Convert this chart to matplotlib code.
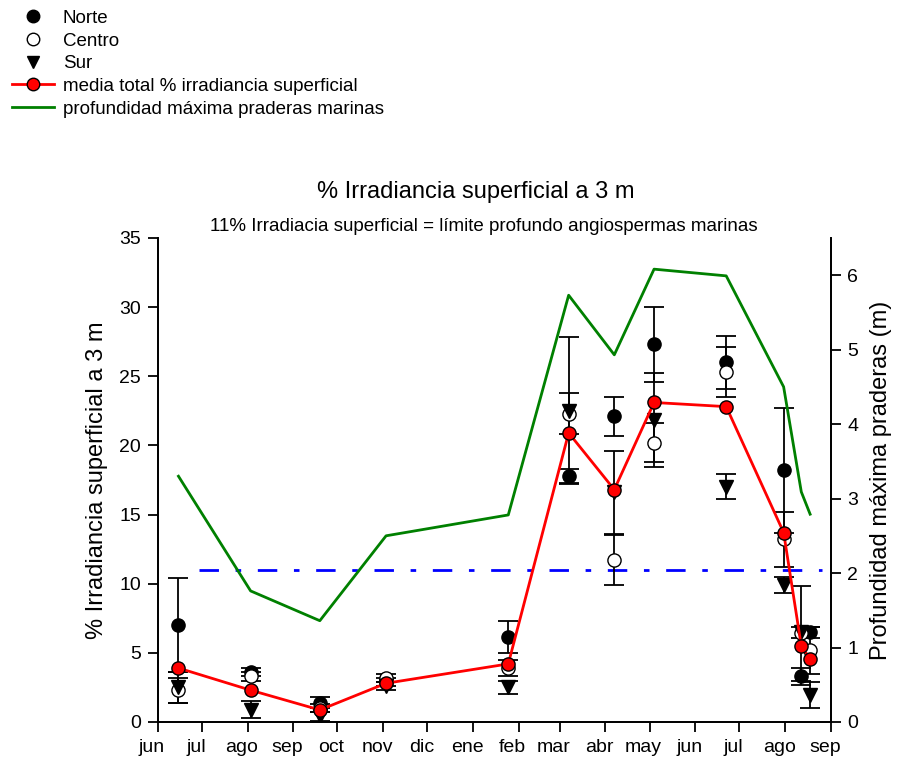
import matplotlib.pyplot as plt
import matplotlib.transforms as mtransforms
from matplotlib.lines import Line2D
import pandas as pd

plt.rcParams['font.family'] = ['Liberation Sans', 'DejaVu Sans']

# fechas de muestreo
fechas = pd.to_datetime(['2006-06-15', '2006-08-03', '2006-09-19', '2006-11-03',
                         '2007-01-25', '2007-03-07', '2007-04-07', '2007-05-04',
                         '2007-06-22', '2007-07-31', '2007-08-12', '2007-08-18'])

norte = [7.0, 3.6, 1.4, 2.9, 6.15, 17.8, 22.1, 27.3, 26.0, 18.2, 3.3, 6.5]
norte_err = [3.4, 0.3, 0.4, 0.3, 1.15, 0.5, 1.4, 2.7, 1.9, 4.5, 0.6, 0.4]
centro = [2.3, 3.3, 1.0, 3.2, 3.9, 22.3, 11.7, 20.2, 25.3, 13.2, 6.4, 5.2]
centro_err = [0.9, 0.3, 0.3, 0.3, 0.6, 1.5, 1.8, 1.4, 1.8, 2.0, 3.4, 1.7]
sur = [2.5, 0.9, 0.4, 2.6, 2.5, 22.5, 16.6, 21.8, 17.0, 9.9, 6.5, 1.95]
sur_err = [1.1, 0.6, 0.3, 0.3, 0.5, 5.3, 3.0, 3.4, 0.9, 0.6, 0.4, 0.95]
media = [3.9, 2.3, 0.87, 2.8, 4.2, 20.9, 16.8, 23.1, 22.8, 13.7, 5.5, 4.55]
prof_max = [3.30, 1.76, 1.36, 2.50, 2.78, 5.73, 4.93, 6.08, 5.99, 4.50, 3.09, 2.79]

limite = 11
limite_ini = pd.Timestamp('2006-06-29')
limite_fin = pd.Timestamp('2007-08-26')

meses = ['jun', 'jul', 'ago', 'sep', 'oct', 'nov', 'dic', 'ene', 'feb', 'mar',
         'abr', 'may', 'jun', 'jul', 'ago', 'sep']
ticks_meses = pd.date_range('2006-06-01', '2007-09-01', freq='MS')

fig = plt.figure(figsize=(9.02, 7.6), dpi=100)
ax = fig.add_axes([0.175, 0.05, 0.746, 0.637])
ax2 = ax.twinx()

ms = 9.5
kw = dict(linestyle='none', ecolor='black', elinewidth=1.3, capsize=7, capthick=1.3,
          markersize=ms, markeredgecolor='black', zorder=3)
ax.errorbar(fechas, norte, yerr=norte_err, fmt='o', markerfacecolor='black', **kw)
ax.errorbar(fechas, centro, yerr=centro_err, fmt='o', markerfacecolor='white', **kw)
ax.errorbar(fechas, sur, yerr=sur_err, fmt='v', markerfacecolor='black', **kw)
ax.plot([limite_ini, limite_fin], [limite, limite], color='blue', lw=2,
        linestyle=(0, (7, 6, 2, 6)), zorder=2)

ax2.plot(fechas, prof_max, color='green', lw=2, zorder=1)

# media encima de todo
ax3 = ax.twinx()
ax3.set_ylim(0, 35)
ax3.axis('off')
ax3.plot(fechas, media, color='red', lw=2, marker='o', markersize=ms,
         markerfacecolor='red', markeredgecolor='black', markeredgewidth=1)

ax.set_xlim(pd.Timestamp('2006-06-01'), pd.Timestamp('2007-09-01'))
ax.set_ylim(0, 35)
ax2.set_ylim(0, 6.5)
ax.set_xticks(ticks_meses)
ax.set_xticklabels(meses)
ax.set_yticks(range(0, 36, 5))
ax2.set_yticks(range(0, 7))

for a in (ax, ax2):
    a.spines['top'].set_visible(False)
    a.tick_params(labelsize=14, length=7, width=1.3, direction='out', pad=5)
    for s in a.spines.values():
        s.set_linewidth(1.3)

# etiquetas de meses un poco a la izquierda de la marca
desplaza = mtransforms.ScaledTranslation(-6 / 100, 0, fig.dpi_scale_trans)
for lab in ax.get_xticklabels():
    lab.set_transform(lab.get_transform() + desplaza)

ax.set_ylabel('% Irradiancia superficial a 3 m', fontsize=17, labelpad=8)
ax2.set_ylabel('Profundidad máxima praderas (m)', fontsize=17, labelpad=8)

fig.text(0.527, 0.748, '% Irradiancia superficial a 3 m', fontsize=17, ha='center', va='center')
fig.text(0.536, 0.702, '11% Irradiacia superficial = límite profundo angiospermas marinas',
         fontsize=13.5, ha='center', va='center')

handles = [
    Line2D([], [], linestyle='none', marker='o', color='black', markersize=9),
    Line2D([], [], linestyle='none', marker='o', markerfacecolor='white',
           markeredgecolor='black', markersize=9),
    Line2D([], [], linestyle='none', marker='v', color='black', markersize=9),
    Line2D([], [], color='red', lw=2, marker='o', markerfacecolor='red',
           markeredgecolor='black', markersize=9),
    Line2D([], [], color='green', lw=2),
]
labels = ['Norte', 'Centro', 'Sur', 'media total % irradiancia superficial',
          'profundidad máxima praderas marinas']
fig.legend(handles, labels, loc='upper left', bbox_to_anchor=(-0.003, 1.007), frameon=False,
           fontsize=13.5, handlelength=2.2, handletextpad=0.5, labelspacing=0.3,
           borderpad=0.3)

fig.savefig('out.png', dpi=100)
